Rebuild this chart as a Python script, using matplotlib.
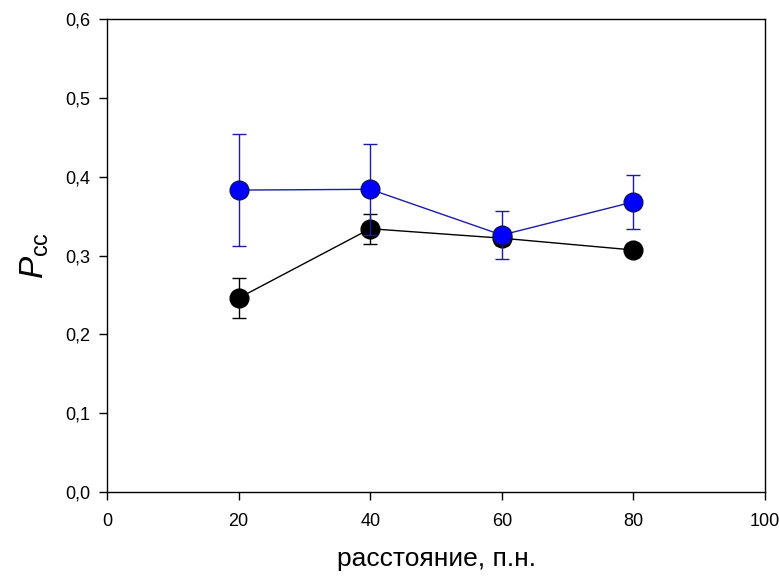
import matplotlib.pyplot as plt
from matplotlib.ticker import FuncFormatter

plt.rcParams['font.family'] = ['Liberation Sans', 'DejaVu Sans']
plt.rcParams['mathtext.fontset'] = 'custom'
plt.rcParams['mathtext.rm'] = 'Liberation Sans'
plt.rcParams['mathtext.it'] = 'Liberation Sans:italic'

# data
x = [20, 40, 60, 80]
blue_y = [0.383, 0.384, 0.326, 0.368]
blue_err = [0.071, 0.058, 0.031, 0.034]
black_y = [0.246, 0.334, 0.322, 0.307]
black_err = [0.025, 0.019, 0.009, 0.003]

xticks = [0, 20, 40, 60, 80, 100]
yticks = [0.0, 0.1, 0.2, 0.3, 0.4, 0.5, 0.6]

fig = plt.figure(figsize=(7.79, 5.77), dpi=100)
ax = fig.add_axes([0.1374, 0.1473, 0.8446, 0.8197])

ax.errorbar(x, black_y, yerr=black_err, color='black', lw=1, capsize=5,
            elinewidth=1, capthick=1, marker='o', ms=13.5, mfc='black',
            mec='black', zorder=2)
ax.errorbar(x, blue_y, yerr=blue_err, color='#1c1ca8', lw=1, capsize=5,
            elinewidth=1, capthick=1, marker='o', ms=13.5, mfc='#0000ff',
            mec='#10106a', zorder=3)

ax.set_xlim(0, 100)
ax.set_ylim(0, 0.6)
ax.set_xticks(xticks)
ax.set_yticks(yticks)
ax.yaxis.set_major_formatter(FuncFormatter(lambda v, p: ('%.1f' % v).replace('.', ',')))
ax.tick_params(direction='out', length=6, width=1, labelsize=13)
ax.tick_params(axis='y', pad=6)
ax.tick_params(axis='x', pad=9)

ax.set_xlabel('расстояние, п.н.', fontsize=19, labelpad=12)
ax.set_ylabel(r'$P_{\mathrm{cc}}$', fontsize=24, labelpad=10)

for s in ax.spines.values():
    s.set_linewidth(1)

fig.savefig('out.png', dpi=100)
